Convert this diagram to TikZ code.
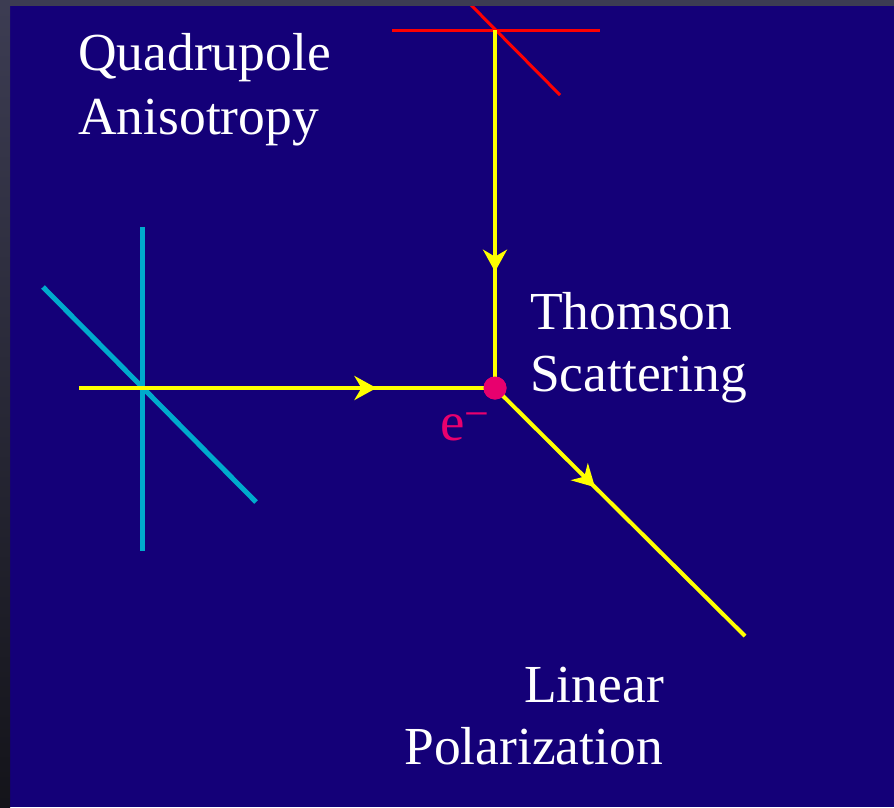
\documentclass[tikz,border=0pt]{standalone}
\usepackage{fontspec}
\setmainfont{Liberation Serif}
\usetikzlibrary{arrows.meta,decorations.markings}
\definecolor{navy}{RGB}{20,0,120}
\definecolor{frameA}{RGB}{60,60,82}
\definecolor{frameB}{RGB}{20,20,26}
\definecolor{cyanl}{RGB}{0,170,204}
\definecolor{redl}{RGB}{255,0,0}
\definecolor{yell}{RGB}{255,255,0}
\definecolor{magen}{RGB}{232,0,110}
\tikzset{
  yline/.style={draw=yell,line width=4pt},
  cline/.style={draw=cyanl,line width=5pt},
  rline/.style={draw=redl,line width=3pt},
  midarrow/.style={postaction={decorate},decoration={markings,
     mark=at position #1 with {\arrow[yell]{Stealth[length=22pt,width=24pt,inset=7pt]}}}},
  lbl/.style={text=white,font=\fontsize{53.5}{62}\selectfont,inner sep=0pt,anchor=base west},
  lblr/.style={text=white,font=\fontsize{53.5}{62}\selectfont,inner sep=0pt,anchor=base east}
}
\begin{document}
\begin{tikzpicture}[x=1pt,y=-1pt]
\useasboundingbox (0,0) rectangle (894,807);
\fill[navy] (0,0) rectangle (894,807);
% cyan polarisation cross
\coordinate (cv1) at (142,227);
\coordinate (cv2) at (142,551);
\coordinate (cd1) at (43,287);
\coordinate (cd2) at (256,502);
\draw[cline] (cv1) -- (cv2);
\draw[cline] (cd1) -- (cd2);
% red polarisation cross
\coordinate (rh1) at (392,30);
\coordinate (rh2) at (600,30);
\coordinate (rd1) at (470,4);
\coordinate (rd2) at (560,95);
\draw[rline] (rh1) -- (rh2);
\draw[rline] (rd1) -- (rd2);
% electron
\node[circle,fill=magen,minimum size=23pt,inner sep=0pt] (el) at (495,388) {};
% rays
\coordinate (yin) at (79,388);
\coordinate (ytop) at (495,30);
\coordinate (yout) at (745,636);
\draw[yline,midarrow=0.715] (yin) -- (el.center);
\draw[yline,midarrow=0.675] (ytop) -- (el.center);
\draw[yline,midarrow=0.40] (el.center) -- (yout);
\node[circle,fill=magen,minimum size=23pt,inner sep=0pt] (el2) at (el) {};
% frame
\fill[frameA] (0,0) rectangle (894,6);
\shade[top color=frameA,bottom color=frameB] (0,6) rectangle (10,807);
% labels
\node[lbl] (q1) at (78,70) {Quadrupole};
\node[lbl] (q2) at (78,134) {Anisotropy};
\node[lbl] (t1) at (530,329) {Thomson};
\node[lbl] (t2) at (530,391) {Scattering};
\node[lblr] (l1) at (664,702) {Linear};
\node[lblr] (l2) at (663,764) {Polarization};
\node[text=magen,font=\fontsize{55}{60}\selectfont,inner sep=0pt,anchor=base west] (e) at (440,440)
  {e\raisebox{12pt}{\fontsize{44}{44}\selectfont −}};
\end{tikzpicture}
\end{document}
